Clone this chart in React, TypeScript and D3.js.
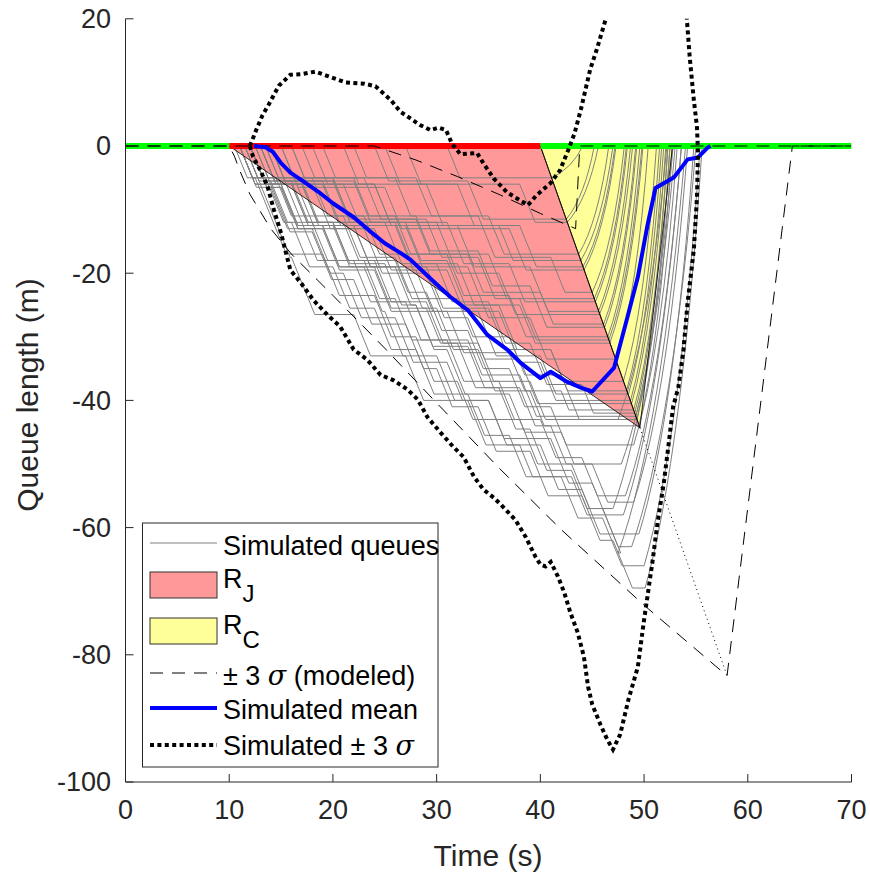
import React from 'react';
import * as d3 from 'd3';

// ---------- data ----------
const X_TICKS = [0, 10, 20, 30, 40, 50, 60, 70];
const Y_TICKS = [20, 0, -20, -40, -60, -80, -100];

const GREEN_PHASES = [[0, 10], [40, 70]];
const RED_PHASES = [[10, 40]];

const REGION_J = [[10, 0], [40, 0], [49.6, -44.3]];
const REGION_C = [[40, 0], [49.6, -44.3], [52.75, 0]];

const MODEL_UPPER = [[0, 0], [10, 0], [24, 0], [28, -2.2], [32, -4.8], [36, -7.6], [40, -10.6], [43.4, -13], [43.8, 0], [70, 0]];
const MODEL_LOWER = [[0, 0], [10, 0], [10.5, -1.6], [11, -3.8], [12, -7.6], [13, -10.3], [14, -13], [16, -17], [20, -23.5], [25, -31.8], [30, -40.4], [36, -50.6], [42, -60.3], [50, -72.2], [58, -83.3], [64.3, 0], [70, 0]];
const DISCHARGE_EXT = [[49.6, -44.3], [58, -83.3]];

const SIM_MEAN = [[12.4, 0], [13.5, -0.2], [14.2, -0.9], [15, -2.7], [15.9, -4.2], [16.9, -5.3], [18.6, -7.2], [20, -9], [22, -11.2], [23.5, -13.3], [25, -15.3], [26.5, -16.8], [27.5, -17.9], [29.5, -21], [31.3, -23.7], [33, -25.8], [34.9, -29.7], [36.8, -32], [38.1, -34.1], [40, -36.5], [41, -35.5], [42.6, -37.1], [43.9, -38], [45, -38.6], [47.1, -34.9], [48.4, -26.9], [49.4, -20.6], [50.3, -12.7], [51.1, -6.6], [52.9, -4.9], [54.2, -2.1], [55.2, -1.8], [56.1, -0.3], [56.4, 0]];

const SIM_UPPER = [[12, 0], [12.6, 2.5], [13.2, 4.8], [13.8, 6.5], [14.8, 9.5], [15.9, 11.2], [17, 11.3], [18.3, 11.7], [19.5, 11], [21.2, 10], [23, 9.8], [24.1, 9.4], [25.6, 7.2], [26.5, 5.4], [28.4, 3.3], [29.4, 2.5], [30.2, 2.9], [30.9, 2.5], [31.5, 0.3], [32.3, -1.3], [33.9, -1.1], [34.5, -2.7], [35.5, -5.1], [36.8, -7.3], [38.1, -8.6], [38.8, -9.3], [39.6, -7.8], [41, -5.8], [41.9, -3.8], [42.7, -0.6], [43.3, 2], [43.9, 5.7], [44.8, 12], [45.5, 15.5], [46.4, 20.5]];

const SIM_LOWER = [[12, 0], [12.3, -1.7], [13, -3.8], [13.7, -6.4], [14.3, -10], [15, -13.7], [15.5, -17], [15.9, -19.5], [16.9, -21.5], [18.1, -24.2], [19.5, -26.6], [20.7, -28.4], [22, -32], [23.3, -33.6], [24.6, -36], [25.8, -36.8], [27.2, -38.3], [28.2, -39.9], [29.1, -42.6], [30.4, -45.1], [31.6, -47.3], [32.6, -48.9], [33.6, -52], [34.5, -54], [35.5, -55.3], [36.2, -56.4], [37.6, -58.8], [38.6, -61.5], [39.5, -64.5], [40, -65.8], [40.5, -66.1], [41, -65.4], [41.7, -67.7], [42.3, -70.2], [42.9, -73.4], [43.6, -76.5], [44.2, -80.3], [44.6, -85], [45, -87.8], [45.8, -91], [46.5, -93.5], [47, -94.9], [47.7, -92.5], [48.5, -87], [49.4, -81.9], [50, -74.5], [50.8, -65.5], [51.3, -59.2], [51.9, -53], [52.3, -47.8], [52.8, -41], [53.3, -38], [53.8, -32], [54.2, -24.5], [54.8, -16.3], [55.1, -8], [55.2, -1], [55.1, 3], [54.8, 7.2], [54.4, 14], [54.1, 20.5]];

// simulated queues: arrival steps [time, queue level after arrival]
const QUEUE_STEPS = [
  [[31, -5]],
  [[27, -6], [38, -12]],
  [[24, -5.5], [33, -11.5]],
  [[21, -6], [29, -12.5], [36, -18]],
  [[19, -5], [26, -11], [34, -17.5], [41, -23]],
  [[15, -6.5], [25, -13], [37, -19.5]],
  [[13, -5], [20, -11.5], [28, -17], [35, -24]],
  [[12, -6], [17, -12], [26, -18.5], [32, -25], [38, -31]],
  [[14, -5.5], [22, -12], [30, -20], [36, -26.5]],
  [[11.5, -6], [16, -12.5], [22, -19], [29, -25.5], [35, -32], [41, -37]],
  [[12.5, -5], [18, -11], [23, -17], [31, -23.5], [37, -30]],
  [[16, -6], [21, -12.5], [27, -19], [33, -27], [39, -33.5]],
  [[11, -6.5], [15, -13], [24, -19.5], [28, -26], [34, -33], [40, -39]],
  [[13.5, -6], [19, -12], [25, -18.5], [30, -24.5], [35, -31], [39, -37.5], [44, -42]],
  [[17, -5], [23, -11.5], [29, -17.5], [34, -24], [38, -30.5]],
  [[12, -5.5], [20, -12], [27, -18], [31, -25], [36, -32], [41, -38.5]],
  [[18, -6], [24, -12.5], [32, -19], [39, -26]],
  [[11, -5], [14.5, -11], [21, -17.5], [26, -24], [32, -30], [37, -36], [42, -43]],
  [[22, -5], [28, -11], [35, -17]],
  [[15, -5.5], [19, -12.5], [26, -19.5], [31, -26], [36, -34], [40, -40]],
  [[13, -6], [18, -13], [23, -20], [29, -27], [33, -33.5], [38, -40.5]],
  [[12, -6], [16.5, -12.5], [20, -19], [27, -25.5], [30, -32], [34, -38.5], [39, -44]],
  [[10.5, -5], [20, -11], [26, -17], [33, -23], [40, -28]],
  [[14, -6], [24, -12], [31, -18.5], [37, -24.5]],
  [[25, -6], [32, -12.5], [38, -19]],
  [[12, -6.5], [15, -13], [19, -19.5], [24, -26], [31, -32.5], [37, -38.5], [42, -41.5]],
  [[16, -5], [22, -11], [28, -16.5], [34, -22], [39, -28.5]],
  [[11.5, -5.5], [14, -12], [18, -18], [22, -24.5], [27, -30.5], [33, -36], [38, -42.5]],
  [[11, -6], [13, -17.5], [16, -26.5], [22, -33], [27, -40], [33, -47], [38, -52], [43, -58]],
  [[12, -6.5], [14, -13], [18, -20], [21, -27], [26, -34], [31, -40], [35, -47], [40, -54], [44, -61]],
  [[11.5, -5], [13.5, -12], [16, -19], [20, -25.5], [24, -32], [28, -39], [33, -45.5], [37, -52], [42, -58.5], [46, -66]],
  [[13, -6], [15, -12.5], [19, -19], [23, -26], [25, -33], [30, -40], [35, -46], [41, -53], [45, -64]],
  [[12, -5.5], [17, -12], [21, -18], [24, -24.5], [29, -31], [32, -38], [36, -44.5], [39, -51], [43, -57]],
  [[14, -6], [16, -12], [20, -18.5], [25, -25], [28, -32], [31, -39], [37, -45], [42, -50]],
  [[11, -6], [14, -13.5], [18, -21], [22, -28], [27, -35], [30, -41], [34, -48], [39, -55], [44, -62], [47, -69.5]],
  [[12.5, -6], [15.5, -12], [17, -18], [23, -24], [26, -30.5], [31, -37], [36, -43], [40, -49], [44, -55]],
  [[13, -5.5], [16, -12], [20, -18], [26, -23], [29, -29], [33, -35], [37, -41], [41, -47]],
  [[11, -5], [12.5, -11], [14, -17], [19, -23.5], [24, -30], [28, -37], [32, -43], [38, -50], [43, -57], [46, -63]],
  [[12, -6], [15, -12.5], [22, -19], [26, -25], [28, -31.5], [33, -38], [38, -44], [41, -50], [45, -56]],
  [[13.5, -6], [17, -12.5], [19, -19], [24, -25.5], [29, -31], [34, -37], [39, -43]],
];
// [time queue starts discharging, time queue cleared]
const QUEUE_END = [
  [41.1, 44.1], [42.6, 45.6], [42.5, 45.2], [43.9, 47.0], [45.0, 48.1], [44.2, 47.3], [45.2, 48.3],
  [46.7, 49.9], [45.7, 48.9], [48.0, 51.2], [46.5, 49.6], [47.3, 50.4], [48.5, 51.7], [49.1, 52.3],
  [46.6, 49.8], [48.3, 51.5], [45.6, 48.7], [49.3, 52.5], [43.7, 46.6], [48.7, 51.9], [48.8, 52.1],
  [49.5, 52.7], [46.1, 49.2], [45.3, 48.4], [44.1, 47.2], [49.0, 52.3], [46.2, 49.3], [49.2, 52.5],
  [48.0, 53.6], [49.5, 54.8], [50.0, 55.4], [47.5, 54.0], [47.0, 52.8], [47.8, 53.0], [50.1, 55.6],
  [48.2, 53.6], [49.0, 53.2], [48.8, 55.0], [49.0, 54.2], [47.5, 52.2],
];

const LEGEND_LABELS = ['Simulated queues', 'R', 'R', '\u00b1 3 ', 'Simulated mean', 'Simulated \u00b1 3 '];

// ---------- styling ----------
const FONT = "'Liberation Sans', Arial, Helvetica, sans-serif";
const TXT = '#262626';
const DROP = 0.25; // seconds per metre for a queue step drawing

export default function App() {
  const x = d3.scaleLinear().domain([0, 70]).range([125.5, 851.5]);
  const y = d3.scaleLinear().domain([-100, 20]).range([782, 18.8]);
  const line = d3.line<number[]>().x(d => x(d[0])).y(d => y(d[1]));

  const queuePath = (steps: number[][], end: number[]) => {
    const p = d3.path();
    let prev = 0;
    p.moveTo(x(steps[0][0] - 0.5), y(0));
    steps.forEach(([t, q]) => {
      p.lineTo(x(t), y(prev));
      p.lineTo(x(t + Math.abs(q - prev) * DROP), y(q));
      prev = q;
    });
    p.lineTo(x(end[0]), y(prev));
    const dt = end[1] - end[0];
    p.quadraticCurveTo(x(end[0] + 0.65 * dt), y(prev * 0.7), x(end[1]), y(0));
    return p.toString();
  };

  const poly = (pts: number[][]) => pts.map(d => `${x(d[0])},${y(d[1])}`).join(' ');

  const L = { x0: 150, x1: 217, tx: 223 };

  return (
    <svg width={870} height={877} style={{ position: 'absolute', left: 0, top: 0, background: '#fff' }} fontFamily={FONT}>
      <defs>
        <clipPath id="plotclip">
          <rect x={x(0)} y={y(20)} width={x(70) - x(0)} height={y(-100) - y(20)} />
        </clipPath>
      </defs>
      <rect x={0} y={0} width={870} height={877} fill="#fff" />
      <g clipPath="url(#plotclip)">
        <polygon points={poly(REGION_J)} fill="#ff9999" stroke="none" />
        <polygon points={poly(REGION_C)} fill="#ffff99" stroke="none" />
        {QUEUE_STEPS.map((s, i) => (
          <path key={i} d={queuePath(s, QUEUE_END[i])} fill="none" stroke="#808080" strokeWidth={1} />
        ))}
        <polygon points={poly(REGION_J)} fill="none" stroke="#000" strokeWidth={0.8} />
        <polygon points={poly(REGION_C)} fill="none" stroke="#000" strokeWidth={0.8} />
        {GREEN_PHASES.map((g, i) => (
          <line key={'g' + i} x1={x(g[0])} x2={x(g[1])} y1={y(0)} y2={y(0)} stroke="#00ff00" strokeWidth={6} />
        ))}
        {RED_PHASES.map((r, i) => (
          <line key={'r' + i} x1={x(r[0])} x2={x(r[1])} y1={y(0)} y2={y(0)} stroke="#ff0000" strokeWidth={6} />
        ))}
        <path d={line(MODEL_UPPER) || ''} fill="none" stroke="#000" strokeWidth={1} strokeDasharray="13 9" />
        <path d={line(MODEL_LOWER) || ''} fill="none" stroke="#000" strokeWidth={1} strokeDasharray="13 9" />
        <path d={line(DISCHARGE_EXT) || ''} fill="none" stroke="#000" strokeWidth={1} strokeDasharray="1 3.5" />
        <path d={line(SIM_MEAN) || ''} fill="none" stroke="#0000ff" strokeWidth={4} strokeLinejoin="round" />
        <path d={line(SIM_UPPER) || ''} fill="none" stroke="#000" strokeWidth={4} strokeDasharray="4 3.4" />
        <path d={line(SIM_LOWER) || ''} fill="none" stroke="#000" strokeWidth={4} strokeDasharray="4 3.4" />
      </g>

      {/* axes */}
      <g stroke={TXT} strokeWidth={1} fill="none">
        <line x1={x(0)} x2={x(0)} y1={y(20)} y2={y(-100)} />
        <line x1={x(0)} x2={x(70)} y1={y(-100)} y2={y(-100)} />
        {X_TICKS.map(t => <line key={'xt' + t} x1={x(t)} x2={x(t)} y1={y(-100)} y2={y(-100) - 8} />)}
        {Y_TICKS.map(t => <line key={'yt' + t} x1={x(0)} x2={x(0) + 8} y1={y(t)} y2={y(t)} />)}
      </g>
      <g fill={TXT} fontSize={27}>
        {X_TICKS.map(t => (
          <text key={'xl' + t} x={x(t)} y={819} textAnchor="middle">{t}</text>
        ))}
        {Y_TICKS.map(t => (
          <text key={'yl' + t} x={111} y={y(t)} dy="0.35em" textAnchor="end">{t}</text>
        ))}
      </g>
      <text x={488} y={866} textAnchor="middle" fontSize={30} fill={TXT}>Time (s)</text>
      <text transform="translate(38,395) rotate(-90)" textAnchor="middle" fontSize={30} fill={TXT}>Queue length (m)</text>

      {/* legend */}
      <rect x={142.5} y={523} width={295.5} height={244} fill="#fff" stroke={TXT} strokeWidth={1} />
      <g fontSize={27} fill="#000">
        <line x1={L.x0} x2={L.x1} y1={543} y2={543} stroke="#808080" strokeWidth={1} />
        <text x={L.tx} y={555}>{LEGEND_LABELS[0]}</text>

        <rect x={L.x0} y={572} width={L.x1 - L.x0} height={26} fill="#ff9999" stroke="#333" strokeWidth={1} />
        <text x={L.tx} y={588}>{LEGEND_LABELS[1]}<tspan dy={14} fontSize={24}>J</tspan></text>

        <rect x={L.x0} y={618} width={L.x1 - L.x0} height={26} fill="#ffff99" stroke="#333" strokeWidth={1} />
        <text x={L.tx} y={634}>{LEGEND_LABELS[2]}<tspan dy={14} fontSize={24}>C</tspan></text>

        <line x1={L.x0} x2={L.x1} y1={673} y2={673} stroke="#000" strokeWidth={1} strokeDasharray="13 9" />
        <text x={L.tx} y={685}>{LEGEND_LABELS[3]}<tspan fontFamily="'DejaVu Serif', serif" fontStyle="italic">σ</tspan> (modeled)</text>

        <line x1={L.x0} x2={L.x1} y1={708} y2={708} stroke="#0000ff" strokeWidth={4} />
        <text x={L.tx} y={719}>{LEGEND_LABELS[4]}</text>

        <line x1={L.x0} x2={L.x1} y1={745} y2={745} stroke="#000" strokeWidth={4} strokeDasharray="4 3.4" />
        <text x={L.tx} y={755}>{LEGEND_LABELS[5]}<tspan fontFamily="'DejaVu Serif', serif" fontStyle="italic">σ</tspan></text>
      </g>
    </svg>
  );
}
